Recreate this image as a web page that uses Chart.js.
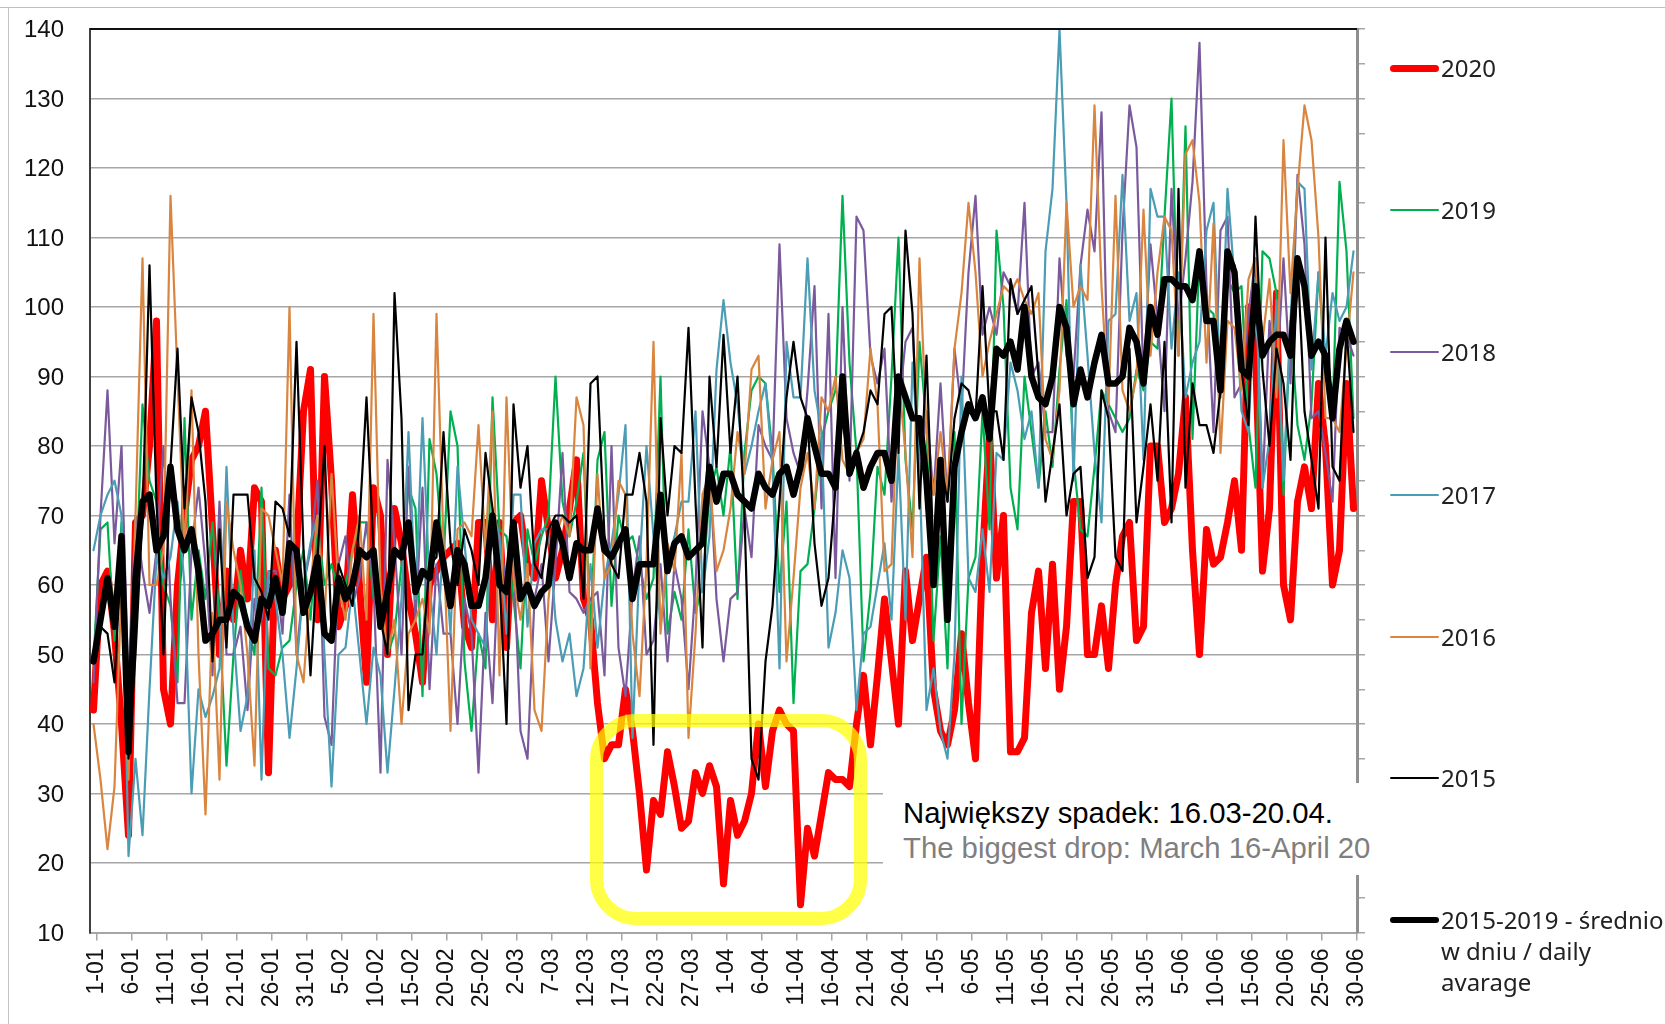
<!DOCTYPE html>
<html>
<head>
<meta charset="utf-8">
<script src="https://cdn.jsdelivr.net/npm/chart.js@4"></script>
<style>
  html, body { margin: 0; padding: 0; background: #fff; }
  #page { position: relative; width: 1665px; height: 1024px; overflow: hidden; font-family: "Liberation Sans", Arial, sans-serif; }
  #topline { position: absolute; left: 0; top: 7px; width: 1665px; height: 1px; background: #bfbfbf; }
  #leftline { position: absolute; left: 8px; top: 7px; width: 1px; height: 1017px; background: #c4c4c4; }
  #note { position: absolute; left: 883px; top: 783px; width: 490px; height: 92px; background: #fff; }
  #note div { position: absolute; left: 20px; font-size: 29.3px; white-space: nowrap; line-height: 32px; }
  #note .pl { top: 14px; color: #000; }
  #note .en { top: 49px; color: #7f7f7f; }
  #drop { position: absolute; left: 590px; top: 714px; width: 277px; height: 211px; box-sizing: border-box;
          border: 13px solid rgba(255, 255, 0, 0.72); border-radius: 46px; }
  .lg-line { position: absolute; left: 1390px; width: 49px; }
  .lg-text { position: absolute; left: 1441px; font-family: "Noto Sans", sans-serif; font-size: 24px; line-height: 31px; color: #222; white-space: pre; }
</style>
</head>
<body>
<div id="page">
  <canvas id="chart" width="1665" height="1024"></canvas>
  <div id="topline"></div>
  <div id="leftline"></div>
  <div id="note">
    <div class="pl">Największy spadek: 16.03-20.04.</div>
    <div class="en">The biggest drop: March 16-April 20</div>
  </div>
  <div id="drop"></div>
</div>
<script>
// Etykiety osi X (co 5 dni)
const tickLabels = ['1-01','6-01','11-01','16-01','21-01','26-01','31-01','5-02','10-02','15-02','20-02','25-02',
  '2-03','7-03','12-03','17-03','22-03','27-03','1-04','6-04','11-04','16-04','21-04','26-04','1-05','6-05',
  '11-05','16-05','21-05','26-05','31-05','5-06','10-06','15-06','20-06','25-06','30-06'];

// Wartosci dzienne, 1-01 .. 30-06
const s2020 = [42,60,62,53,40,24,69,70,80,98,
  45,40,60,70,78,80,85,68,50,62,
  55,65,58,74,72,33,65,58,60,65,
  85,91,55,90,75,54,57,73,60,46,
  74,70,50,71,66,58,53,46,60,62,
  64,65,66,54,51,69,69,55,69,51,
  69,70,63,61,75,68,61,65,71,78,
  58,55,43,35,37,37,45,39,30,19,
  29,27,36,31,25,26,33,30,34,31,
  17,29,24,26,30,40,31,39,42,40,
  39,14,25,21,27,33,32,32,31,40,
  47,37,47,58,49,40,62,52,58,64,
  45,39,37,42,53,43,35,64,82,61,
  70,36,36,38,56,62,48,63,45,54,
  72,72,50,50,57,48,60,67,69,52,
  54,80,80,69,71,76,87,65,50,68,
  63,64,69,75,65,100,93,62,71,102,
  60,55,72,77,71,89,80,60,65,89,
  71];
const s2019 = [49,68,69,52,69,45,59,86,75,72,
  60,57,46,84,55,65,58,69,55,34,
  50,62,54,50,74,48,47,51,52,60,
  65,55,69,60,63,59,60,65,69,69,
  58,57,50,53,63,74,71,44,81,76,
  63,85,80,49,39,53,48,87,68,67,
  58,48,68,63,67,70,90,72,67,72,
  79,53,78,82,57,70,66,67,63,58,
  61,90,53,59,55,68,56,60,73,77,
  70,80,58,79,88,90,89,79,59,72,
  43,62,63,71,81,85,88,116,92,79,
  49,59,77,73,90,110,78,68,95,83,
  52,67,48,82,40,61,64,85,68,111,
  100,74,68,90,82,74,85,77,91,101,
  78,68,67,77,88,86,84,82,84,91,
  88,95,94,113,130,93,126,81,108,100,
  99,87,104,102,103,83,74,108,107,102,
  73,98,83,78,86,105,91,84,118,108,
  84];
const s2018 = [46,70,88,66,80,45,70,62,56,65,
  80,58,43,43,65,74,63,47,72,50,
  50,54,42,58,55,62,62,53,73,50,
  60,65,75,41,37,63,67,57,61,69,
  60,33,78,66,50,77,55,74,45,63,
  53,53,40,58,53,33,56,43,67,60,
  64,39,35,58,63,49,63,79,59,58,
  56,58,59,47,80,51,44,59,67,50,
  52,63,49,63,58,45,60,85,77,58,
  49,58,59,71,64,83,80,78,109,84,
  79,76,88,103,71,99,61,100,75,113,
  111,93,89,94,72,85,95,97,77,85,
  73,89,72,94,85,105,116,96,100,96,
  105,103,99,115,90,92,82,82,107,93,
  90,106,114,108,128,85,82,111,129,123,
  89,109,98,85,117,98,107,118,138,103,
  82,111,113,87,89,99,107,74,98,89,
  107,89,119,109,84,85,79,72,97,96,
  93];
const s2017 = [65,70,73,75,70,21,35,24,45,64,
  61,64,72,60,30,45,41,44,48,77,
  53,39,44,65,32,62,58,50,38,48,
  60,66,70,50,31,50,51,60,50,40,
  51,47,33,45,58,82,58,84,60,50,
  67,53,77,66,55,53,51,71,67,53,
  73,73,54,66,68,68,55,49,53,44,
  48,63,51,61,66,73,83,38,63,80,
  67,54,63,67,72,72,85,59,67,91,
  101,92,86,76,80,85,89,77,48,95,
  87,87,107,88,82,51,56,65,61,42,
  53,54,60,66,55,79,55,92,77,42,
  48,39,35,50,90,61,59,68,59,79,
  78,92,88,81,85,74,108,117,140,115,
  75,106,93,79,69,98,99,119,98,102,
  78,117,113,113,94,105,87,92,95,111,
  115,88,117,104,85,82,104,74,81,101,
  75,98,118,117,91,105,93,102,98,100,
  108];
const s2016 = [40,32,22,31,60,32,70,107,60,60,
  65,116,90,65,88,50,27,56,32,72,
  65,60,50,34,71,70,65,60,100,50,
  46,60,70,55,76,60,55,65,70,55,
  99,60,50,55,40,53,55,58,53,99,
  66,39,68,69,67,83,65,85,47,87,
  61,55,63,42,39,58,67,70,67,87,
  83,48,76,61,63,75,73,53,44,63,
  95,53,66,62,79,38,53,73,76,62,
  65,71,82,76,91,93,71,78,82,49,
  61,74,79,71,87,85,90,78,76,79,
  81,94,86,62,63,90,79,64,107,82,
  73,82,73,94,102,115,105,90,95,99,
  103,102,104,101,99,102,81,78,88,115,
  100,103,101,129,103,86,116,88,85,90,
  114,93,105,113,111,93,122,124,115,92,
  112,79,98,97,88,104,107,95,104,87,
  124,102,117,129,124,110,84,84,82,94,
  105];
const s2015 = [49,54,53,46,65,35,50,70,106,72,
  50,77,94,71,87,82,72,49,68,51,
  73,73,73,61,59,55,72,71,67,95,
  65,47,64,80,53,63,60,57,69,87,
  65,55,50,102,84,42,50,50,63,64,
  82,66,60,68,65,60,79,71,61,40,
  86,74,80,63,61,68,70,70,69,70,
  58,89,90,67,63,61,73,73,79,72,
  37,84,70,80,79,97,72,51,90,77,
  96,79,90,70,35,32,49,57,72,87,
  95,87,84,66,57,61,74,84,76,79,
  82,88,86,99,100,79,111,99,71,93,
  64,78,72,84,89,88,84,103,85,85,
  78,104,99,101,103,90,72,79,86,70,
  76,77,61,64,88,84,64,62,94,69,
  77,86,75,95,69,117,74,89,83,83,
  79,88,107,106,91,83,113,91,80,94,
  89,78,107,85,78,71,110,77,75,97,
  82];
const sAvg = [49,55,61,54,67,36,61,72,73,65,
  67,77,68,65,68,62,52,53,55,55,
  59,58,54,52,58,57,61,56,66,65,
  56,59,64,53,52,61,58,60,65,64,
  65,54,59,65,64,69,59,62,61,69,
  63,57,65,63,57,57,61,70,60,59,
  69,58,60,57,59,60,69,66,61,66,
  65,65,71,65,64,66,68,58,63,63,
  63,73,62,66,67,64,65,66,77,72,
  76,76,73,72,71,76,74,73,76,77,
  73,77,84,80,76,76,74,90,76,79,
  74,77,79,79,75,90,87,84,84,75,
  60,78,55,77,82,86,84,87,81,94,
  93,95,91,100,90,87,86,90,100,97,
  86,91,87,92,96,89,89,90,97,95,
  89,100,96,104,104,103,103,101,108,98,
  98,88,108,105,91,90,103,93,95,96,
  96,93,107,103,93,95,93,84,94,98,
  95];

const grey = '#a6a6a6';

const toPoints = (values) => values.map((v, i) => ({ x: i, y: v }));

const makeSeries = (label, values, color, width, order) => ({
  label: label,
  data: toPoints(values),
  borderColor: color,
  borderWidth: width,
  pointRadius: 0,
  tension: 0,
  borderCapStyle: 'round',
  borderJoinStyle: 'round',
  order: order,
});

// Kolejnosc: czerwona pod spodem, srednia na wierzchu
const datasets = [
  makeSeries('2020', s2020, '#ff0000', 7, 6),
  makeSeries('2019', s2019, '#00b050', 2.2, 5),
  makeSeries('2018', s2018, '#7a5a9c', 2.2, 4),
  makeSeries('2017', s2017, '#4a9db5', 2.2, 3),
  makeSeries('2016', s2016, '#d9853f', 2.2, 2),
  makeSeries('2015', s2015, '#000000', 2.2, 1),
  makeSeries('2015-2019 - średnio\nw dniu / daily\navarage', sAvg, '#000000', 6.5, 0),
];

// Gorna krawedz obszaru wykresu
const topBorder = {
  id: 'topBorder',
  afterDraw(chart) {
    const { ctx, chartArea } = chart;
    ctx.save();
    ctx.strokeStyle = '#111';
    ctx.lineWidth = 2;
    ctx.beginPath();
    ctx.moveTo(chartArea.left, chartArea.top);
    ctx.lineTo(chartArea.right, chartArea.top);
    ctx.stroke();
    ctx.restore();
  },
};

new Chart(document.getElementById('chart'), {
  type: 'line',
  data: { datasets: datasets },
  plugins: [topBorder],
  options: {
    responsive: false,
    animation: false,
    events: [],
    layout: { padding: { left: 0, top: 29, right: 296, bottom: 0 } },
    plugins: { legend: { display: false }, tooltip: { enabled: false } },
    scales: {
      x: {
        type: 'linear',
        min: -0.5,
        max: 180.5,
        afterBuildTicks: (scale) => { scale.ticks = tickLabels.map((_, k) => ({ value: k * 5 + 0.5 })); },
        afterFit: (scale) => { scale.height = 91.5; scale.paddingLeft = 0; scale.paddingRight = 0; },
        grid: { drawOnChartArea: false, color: grey, tickLength: 8, lineWidth: 1.5 },
        border: { color: grey, width: 2 },
        ticks: {
          autoSkip: false,
          minRotation: 90,
          maxRotation: 90,
          padding: 8,
          color: '#111',
          font: { family: '"Liberation Sans"', size: 23 },
          callback: (value) => tickLabels[Math.round((value - 0.5) / 5)],
        },
      },
      y: {
        min: 10,
        max: 140,
        afterFit: (scale) => { scale.width = 90; scale.paddingTop = 0; scale.paddingBottom = 0; },
        grid: { color: grey, lineWidth: 1.5, drawTicks: false },
        border: { color: '#404040', width: 2 },
        ticks: {
          stepSize: 10,
          padding: 26,
          labelOffset: 1.5,
          color: '#111',
          font: { family: '"Liberation Sans"', size: 24 },
        },
      },
      yRight: {
        position: 'right',
        min: 10,
        max: 140,
        afterFit: (scale) => { scale.width = 12; scale.paddingTop = 0; scale.paddingBottom = 0; },
        grid: { drawOnChartArea: false, color: grey, tickLength: 8, lineWidth: 1.5 },
        border: { color: '#8f8f8f', width: 3 },
        ticks: { stepSize: 5, display: false },
      },
    },
  },
});

// Legenda po prawej stronie
const page = document.getElementById('page');
const legendY = [68, 210, 352, 495, 637, 778, 920];
datasets.forEach((d, i) => {
  const line = document.createElement('div');
  line.className = 'lg-line';
  const h = d.borderWidth;
  line.style.top = (legendY[i] - h / 2) + 'px';
  line.style.height = h + 'px';
  line.style.borderRadius = h + 'px';
  line.style.background = d.borderColor;
  page.appendChild(line);
  const text = document.createElement('div');
  text.className = 'lg-text';
  text.style.top = (legendY[i] - 16.5) + 'px';
  text.textContent = d.label;
  page.appendChild(text);
});
</script>
</body>
</html>
